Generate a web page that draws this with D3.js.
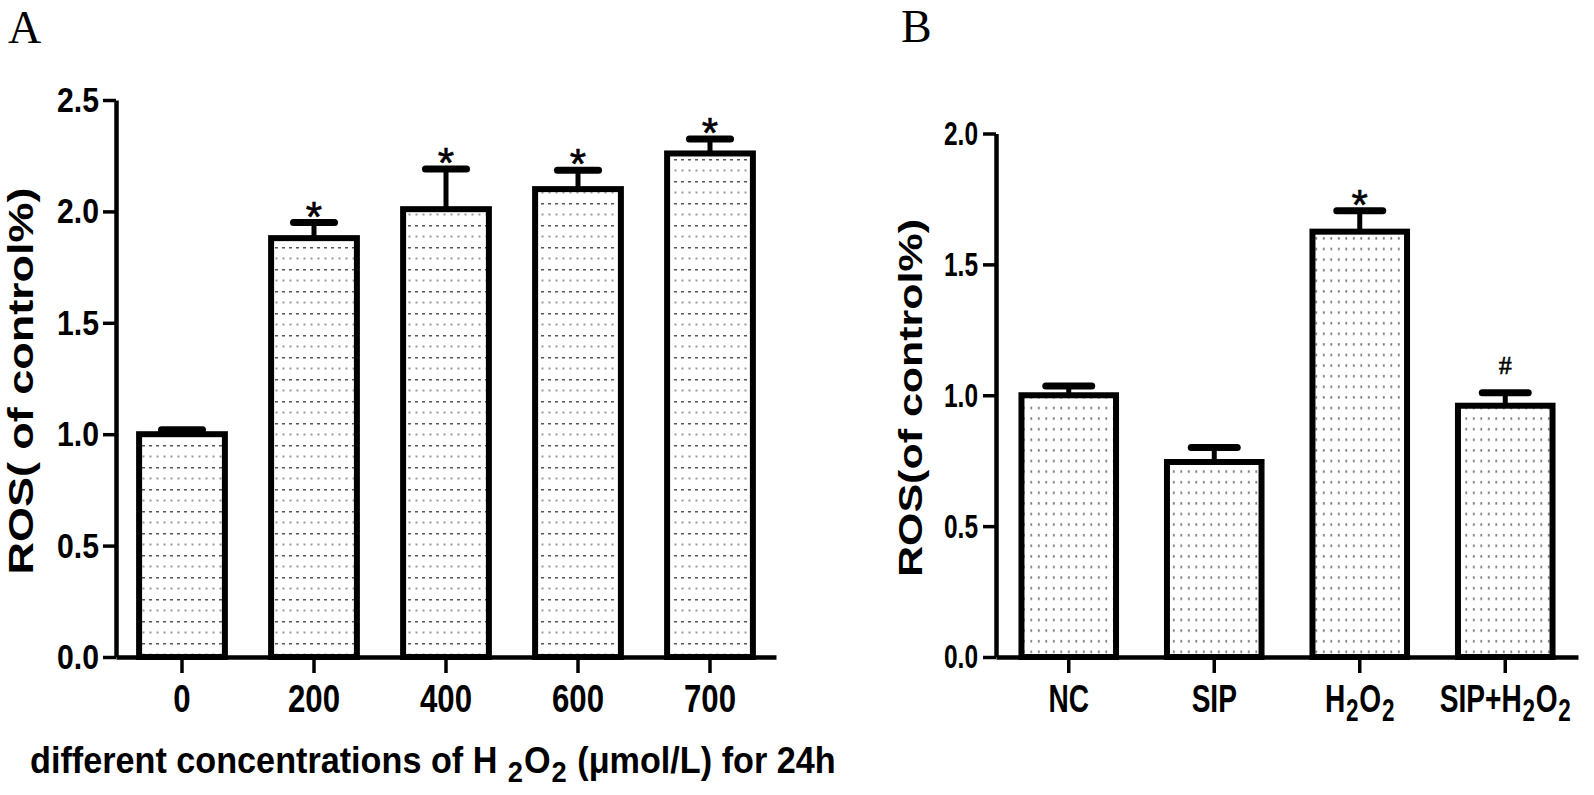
<!DOCTYPE html>
<html>
<head>
<meta charset="utf-8">
<script src="https://cdn.jsdelivr.net/npm/d3@7"></script>
<style>
  body { margin: 0; background: #fff; }
  text { font-family: "Liberation Sans", Arial, sans-serif; fill: #000; }
</style>
</head>
<body>
<svg id="chart"></svg>
<script>
// panel A: ROS vs H2O2 concentration
const catsA = ["0", "200", "400", "600", "700"];
const meansA = [1.00, 1.88, 2.01, 2.10, 2.26];
const errsA = [0.02, 0.07, 0.18, 0.085, 0.065];
const marksA = ["", "*", "*", "*", "*"];
const ticksA = [0, 0.5, 1.0, 1.5, 2.0, 2.5];

// panel B: treatment groups ("_2" marks a subscript 2)
const catsB = ["NC", "SIP", "H_2O_2", "SIP+H_2O_2"];
const meansB = [1.00, 0.745, 1.625, 0.96];
const errsB = [0.035, 0.055, 0.08, 0.05];
const marksB = ["", "", "*", "#"];
const ticksB = [0, 0.5, 1.0, 1.5, 2.0];

const W = 1594, H = 795;
const BASE_Y = 657;

const svg = d3.select("#chart").attr("width", W).attr("height", H);
svg.append("rect").attr("width", W).attr("height", H).attr("fill", "#fff");

// dotted fills
const defs = svg.append("defs");
const patA = defs.append("pattern").attr("id", "dotsA")
    .attr("patternUnits", "userSpaceOnUse").attr("width", 7).attr("height", 22);
patA.append("rect").attr("x", 2).attr("y", 5).attr("width", 3).attr("height", 1.5).attr("fill", "#555");
patA.append("rect").attr("x", 2.5).attr("y", 15.5).attr("width", 2).attr("height", 2).attr("fill", "#999");

const patB = defs.append("pattern").attr("id", "dotsB")
    .attr("patternUnits", "userSpaceOnUse").attr("width", 7.5).attr("height", 10.6);
patB.append("rect").attr("x", 3).attr("y", 4).attr("width", 1.6).attr("height", 2.4).attr("fill", "#666");


// writes a label, turning "_2" into a lowered, smaller 2
function subText(sel, str) {
    sel.text(null);
    let lowered = false;
    str.split(/(_\d)/).filter(s => s.length).forEach(function (part) {
        if (part[0] === "_") {
            sel.append("tspan").attr("font-size", "80%").attr("dx", 1).attr("dy", 9).text(part.slice(1));
            lowered = true;
        } else {
            const ts = sel.append("tspan").text(part);
            if (lowered) {
                ts.attr("dx", 1).attr("dy", -9);
                lowered = false;
            }
        }
    });
}

// squeeze tick labels sideways like the original condensed font
function condense(axisG, sx) {
    axisG.selectAll(".tick text").each(function () {
        const t = d3.select(this);
        const x = +t.attr("x") || 0;
        const y = +t.attr("y") || 0;
        t.attr("x", 0).attr("y", 0)
            .attr("transform", `translate(${x},${y}) scale(${sx},1)`);
    });
}

const markStyle = {
    "*": { family: "'Liberation Sans', Arial, sans-serif", size: 42, dy: 8 },
    "#": { family: "'Liberation Serif', 'Times New Roman', serif", size: 26, dy: -19 },
};


function drawPanel(cfg) {
    const g = svg.append("g");

    const x = d3.scaleBand()
        .domain(cfg.cats)
        .range(cfg.xRange)
        .paddingInner(0.35)
        .paddingOuter(0.175);

    const y = d3.scaleLinear()
        .domain([0, cfg.yMax])
        .range([BASE_Y, cfg.yTop]);

    const rows = cfg.cats.map((c, i) => ({
        c: c, m: cfg.means[i], e: cfg.errs[i], s: cfg.marks[i]
    }));
    const bw = x.bandwidth();
    const capHalf = bw * 0.28 - 3.5;

    // error bars (upper only)
    const err = g.append("g");
    err.selectAll("line.stem").data(rows).enter().append("line")
        .attr("class", "stem")
        .attr("x1", d => x(d.c) + bw / 2)
        .attr("x2", d => x(d.c) + bw / 2)
        .attr("y1", d => y(d.m))
        .attr("y2", d => y(d.m + d.e))
        .attr("stroke", "#000")
        .attr("stroke-width", 5);
    err.selectAll("line.cap").data(rows).enter().append("line")
        .attr("class", "cap")
        .attr("x1", d => x(d.c) + bw / 2 - capHalf)
        .attr("x2", d => x(d.c) + bw / 2 + capHalf)
        .attr("y1", d => y(d.m + d.e))
        .attr("y2", d => y(d.m + d.e))
        .attr("stroke", "#000")
        .attr("stroke-width", 7)
        .attr("stroke-linecap", "round");

    // bars
    g.append("g").selectAll("rect").data(rows).enter().append("rect")
        .attr("x", d => x(d.c))
        .attr("y", d => y(d.m))
        .attr("width", bw)
        .attr("height", d => y(0) - y(d.m))
        .attr("fill", `url(#${cfg.pattern})`)
        .attr("stroke", "#000")
        .attr("stroke-width", 6);

    // significance marks
    g.append("g").selectAll("text").data(rows.filter(d => d.s)).enter().append("text")
        .attr("x", d => x(d.c) + bw / 2)
        .attr("y", d => y(d.m + d.e) + markStyle[d.s].dy)
        .attr("text-anchor", "middle")
        .style("font-family", d => markStyle[d.s].family)
        .style("font-size", d => markStyle[d.s].size + "px")
        .style("stroke", "#000")
        .style("stroke-width", 0.6)
        .text(d => d.s);

    // y axis
    const yAxisG = g.append("g")
        .attr("transform", `translate(${cfg.xRange[0]},0)`)
        .call(d3.axisLeft(y)
            .tickValues(cfg.ticks)
            .tickFormat(d3.format(".1f"))
            .tickSize(13)
            .tickPadding(cfg.yPad)
            .tickSizeOuter(0));
    yAxisG.select(".domain").attr("stroke", "#000").attr("stroke-width", 4.5);
    yAxisG.selectAll(".tick line").attr("stroke", "#000").attr("stroke-width", 3.5);
    yAxisG.selectAll(".tick text")
        .style("font-size", cfg.yFont + "px")
        .style("font-weight", "bold");
    condense(yAxisG, cfg.ySquash);

    // x axis
    const xAxisG = g.append("g")
        .attr("transform", `translate(0,${BASE_Y})`)
        .call(d3.axisBottom(x)
            .tickSize(16)
            .tickPadding(9)
            .tickSizeOuter(0));
    xAxisG.select(".domain").attr("stroke", "#000").attr("stroke-width", 4.5);
    xAxisG.selectAll(".tick line").attr("stroke", "#000").attr("stroke-width", 3.5);
    xAxisG.selectAll(".tick text")
        .style("font-size", "39px")
        .style("font-weight", "bold")
        .attr("dy", null)
        .attr("y", 55)
        .each(function (d) { subText(d3.select(this), d); });
    condense(xAxisG, cfg.xSquash);

    // y title
    g.append("text")
        .attr("transform", `translate(${cfg.yTitlePos[0]},${cfg.yTitlePos[1]}) rotate(-90)`)
        .attr("text-anchor", "middle")
        .attr("textLength", cfg.yTitleLen)
        .attr("lengthAdjust", "spacingAndGlyphs")
        .style("font-size", cfg.yTitleFont + "px")
        .style("font-weight", "bold")
        .text(cfg.yTitle);

    // panel letter
    g.append("text")
        .attr("x", cfg.letterPos[0])
        .attr("y", cfg.letterPos[1])
        .style("font-family", "'Liberation Serif', 'Times New Roman', serif")
        .style("font-size", "46px")
        .text(cfg.letter);

    return g;
}


drawPanel({
    cats: catsA, means: meansA, errs: errsA, marks: marksA, ticks: ticksA,
    xRange: [116, 776], yMax: 2.5, yTop: 100,
    pattern: "dotsA", yPad: 4, yFont: 36, ySquash: 0.84, xSquash: 0.8,
    yTitle: "ROS( of control%)", yTitlePos: [33, 381], yTitleLen: 387, yTitleFont: 35,
    letter: "A", letterPos: [8, 43],
});

drawPanel({
    cats: catsB, means: meansB, errs: errsB, marks: marksB, ticks: ticksB,
    xRange: [996, 1578], yMax: 2.0, yTop: 133.5,
    pattern: "dotsB", yPad: 5, yFont: 34, ySquash: 0.72, xSquash: 0.72,
    yTitle: "ROS(of control%)", yTitlePos: [922, 398], yTitleLen: 358, yTitleFont: 34,
    letter: "B", letterPos: [901, 42],
});

// x title of panel A
const xTitle = svg.append("text")
    .attr("transform", "translate(30,773) scale(0.95,1)")
    .style("font-size", "36px")
    .style("font-weight", "bold");
subText(xTitle, "different concentrations of H _2O_2 (μmol/L) for 24h");
</script>
</body>
</html>
